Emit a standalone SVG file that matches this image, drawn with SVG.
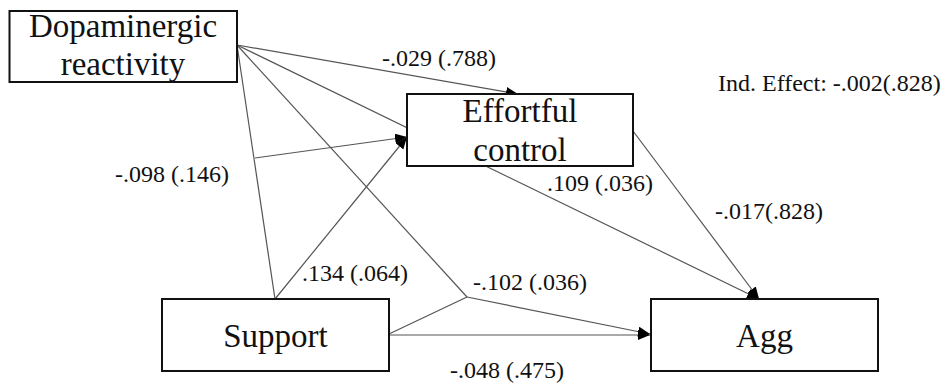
<svg xmlns="http://www.w3.org/2000/svg" width="951" height="388" viewBox="0 0 951 388" font-family="Liberation Serif, Times New Roman, serif">
<style>
.box{fill:#fff;stroke:#111;stroke-width:2}
.node{font-size:33px;fill:#111;text-anchor:middle}
.lbl{font-size:24px;fill:#111}
.ln{stroke:#555;stroke-width:1.2;fill:none}
</style>
<defs>
<marker id="arr" markerUnits="userSpaceOnUse" markerWidth="13" markerHeight="11" refX="12" refY="5" orient="auto">
<path d="M0,0 L12,5 L0,10 z" fill="#000"/>
</marker>
</defs>
<g id="connectors">
<line class="ln" x1="237" y1="45" x2="275" y2="299"/>
<line class="ln" x1="237" y1="45" x2="467" y2="297"/>
<line class="ln" x1="389" y1="334" x2="467" y2="297"/>
<line class="ln" x1="237" y1="45" x2="518" y2="94" marker-end="url(#arr)"/>
<line class="ln" x1="237" y1="45" x2="759" y2="299" marker-end="url(#arr)"/>
<line class="ln" x1="255" y1="158" x2="407" y2="137" marker-end="url(#arr)"/>
<line class="ln" x1="275" y1="299" x2="407" y2="137" marker-end="url(#arr)"/>
<line class="ln" x1="633" y1="131" x2="759" y2="299" marker-end="url(#arr)"/>
<line class="ln" x1="467" y1="297" x2="650" y2="334" marker-end="url(#arr)"/>
<line class="ln" x1="389" y1="335" x2="650" y2="335" marker-end="url(#arr)"/>
</g>
<g id="node-dopaminergic" font-family="Liberation Serif, serif">
<rect class="box" x="9.5" y="11" width="227.5" height="71"/>
<text class="node" x="123" y="37" font-size="34" font-family="Liberation Serif, serif">Dopaminergic</text>
<text class="node" x="123" y="75" font-size="34" font-family="Liberation Serif, serif">reactivity</text>
</g>
<g id="node-effortful" font-family="Liberation Serif, serif">
<rect class="box" x="407" y="94" width="226" height="72"/>
<text class="node" x="520" y="122" font-family="Liberation Serif, serif">Effortful</text>
<text class="node" x="520" y="161" font-family="Liberation Serif, serif">control</text>
</g>
<g id="node-support" font-family="Liberation Serif, serif">
<rect class="box" x="162" y="299" width="227" height="72"/>
<text class="node" x="275.5" y="347" font-family="Liberation Serif, serif">Support</text>
</g>
<g id="node-agg" font-family="Liberation Serif, serif">
<rect class="box" x="651" y="299" width="227" height="72"/>
<text class="node" x="764.5" y="347" font-family="Liberation Serif, serif">Agg</text>
</g>
<g id="labels" font-family="Liberation Serif, serif">
<text class="lbl" x="382" y="66">-.029 (.788)</text>
<text class="lbl" x="718" y="91">Ind. Effect: -.002(.828)</text>
<text class="lbl" x="115" y="182">-.098 (.146)</text>
<text class="lbl" x="547" y="191">.109 (.036)</text>
<text class="lbl" x="715" y="219">-.017(.828)</text>
<text class="lbl" x="302" y="281">.134 (.064)</text>
<text class="lbl" x="473" y="290">-.102 (.036)</text>
<text class="lbl" x="450" y="378">-.048 (.475)</text>
</g>
</svg>
